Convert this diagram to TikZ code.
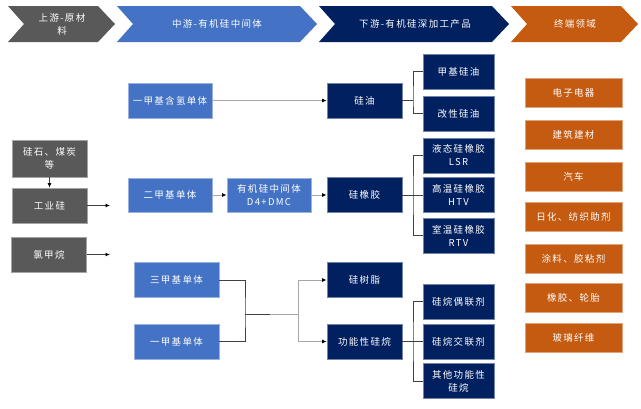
\documentclass[tikz,border=0pt]{standalone}
\usepackage{fontspec}
\setmainfont[LetterSpace=14]{Noto Sans CJK SC}
\usetikzlibrary{arrows.meta}
\definecolor{cgray}{HTML}{595959}
\definecolor{cblue}{HTML}{4472C4}
\definecolor{cnavy}{HTML}{002060}
\definecolor{corange}{HTML}{C55A11}
\definecolor{lline}{HTML}{A6A6A6}
\definecolor{dline}{HTML}{404040}
\begin{document}
\begin{tikzpicture}[x=1pt,y=-1pt,
  txt/.style={text=white,font=\fontsize{9.5}{13}\selectfont,align=center,inner sep=0pt},
  basebox/.style={txt,draw=#1!55!white,line width=0.8pt,fill=#1,minimum height=35pt},
  gbox/.style={basebox=cgray,minimum width=75pt},
  bbox/.style={basebox=cblue,minimum width=84pt},
  nbox/.style={basebox=cnavy,minimum width=75pt},
  nsub/.style={basebox=cnavy,minimum width=71pt},
  obox/.style={basebox=corange,minimum width=97pt,minimum height=29pt},
  arr/.style={draw=lline,line width=0.9pt,-{Latex[length=4.5pt,width=4pt,color=black]}},
  darr/.style={draw=dline,line width=0.9pt,-{Latex[length=4.5pt,width=4pt,color=black]}},
  dk/.style={draw=dline,line width=0.9pt},
  lt/.style={draw=lline,line width=0.9pt},
  hdr/.style={txt}
]
\path[use as bounding box] (0,0) rectangle (641,408);
% header chevrons
\fill[cgray] (8,6) -- (98,6) -- (115,24) -- (98,42) -- (8,42) -- (24,24) -- cycle;
\fill[cblue] (117,6) -- (300,6) -- (317,24) -- (300,42) -- (117,42) -- (133,24) -- cycle;
\fill[cnavy] (319,6) -- (492,6) -- (509,24) -- (492,42) -- (319,42) -- (335,24) -- cycle;
\fill[corange] (511,6) -- (621,6) -- (638,24) -- (621,42) -- (511,42) -- (527,24) -- cycle;
\node[hdr] (h1) at (62,24) {上游-原材\\料};
\node[hdr] (h2) at (217,24) {中游-有机硅中间体};
\node[hdr] (h3) at (415,24) {下游-有机硅深加工产品};
\node[hdr] (h4) at (575,24) {终端领域};
% raw materials
\node[gbox,minimum height=37pt] (raw) at (49.5,158.5) {硅石、煤炭\\等};
\node[gbox] (indsi) at (49.5,205.5) {工业硅};
\node[gbox] (mecl) at (49,254.5) {氯甲烷};
\coordinate (e1) at (110,205.5);
\coordinate (e2) at (110,254.5);
% midstream
\node[bbox] (m1) at (170,100.5) {一甲基含氢单体};
\node[bbox,minimum height=34pt] (m2) at (170,195) {二甲基单体};
\node[bbox,minimum height=34pt] (mid) at (269,195) {有机硅中间体\\D4+DMC};
\node[bbox,minimum width=85pt] (m3) at (176.5,280) {三甲基单体};
\node[bbox,minimum width=85pt] (m4) at (176.5,341.5) {一甲基单体};
% downstream
\node[nbox] (oil) at (364.5,100.5) {硅油};
\node[nbox] (rubber) at (364.5,195) {硅橡胶};
\node[nbox] (resin) at (364.5,280) {硅树脂};
\node[nbox] (silane) at (364.5,341.5) {功能性硅烷};
\node[nsub] (moil) at (458.5,71.5) {甲基硅油};
\node[nsub] (modoil) at (458.5,113.5) {改性硅油};
\node[nsub] (lsr) at (458.5,155.5) {液态硅橡胶\\LSR};
\node[nsub] (htv) at (458.5,195) {高温硅橡胶\\HTV};
\node[nsub] (rtv) at (458.5,235.5) {室温硅橡胶\\RTV};
\node[nsub] (coupl) at (458.5,301.5) {硅烷偶联剂};
\node[nsub] (cross) at (458.5,341.5) {硅烷交联剂};
\node[nsub] (other) at (458.5,381) {其他功能性\\硅烷};
% terminal
\node[obox] (t1) at (573.5,92.5) {电子电器};
\node[obox] (t2) at (573.5,134.5) {建筑建材};
\node[obox] (t3) at (573.5,176.5) {汽车};
\node[obox] (t4) at (573.5,217) {日化、纺织助剂};
\node[obox] (t5) at (573.5,258.5) {涂料、胶粘剂};
\node[obox] (t6) at (573.5,297.5) {橡胶、轮胎};
\node[obox] (t7) at (573.5,337.5) {玻璃纤维};
% connectors
\draw[darr] (raw) -- (indsi);
\draw[darr] (indsi) -- (e1);
\draw[darr] (mecl) -- (e2);
\draw[arr] (m1) -- (oil);
\draw[arr] (m2) -- (mid);
\draw[arr] (mid) -- (rubber);
\coordinate (ja) at (245,314);
\coordinate (jm) at (270,314);
\coordinate (jb) at (298,314);
\draw[dk] (m3.east) -| (ja) |- (m4.east);
\draw[dk] (ja) -- (jm);
\draw[lt] (jm) -- (jb);
\draw[arr] (jb) |- (resin.west);
\draw[arr] (jb) |- (silane.west);
\coordinate (bo) at (413,100.5);
\coordinate (br) at (413,195);
\coordinate (bs) at (413,341.5);
\draw[dk] (oil.east) -- (bo);
\draw[dk] (moil.west) -| (bo) |- (modoil.west);
\draw[dk] (rubber.east) -- (htv.west);
\draw[dk] (lsr.west) -| (br) |- (rtv.west);
\draw[dk] (silane.east) -- (cross.west);
\draw[dk] (coupl.west) -| (bs) |- (other.west);
\end{tikzpicture}
\end{document}
